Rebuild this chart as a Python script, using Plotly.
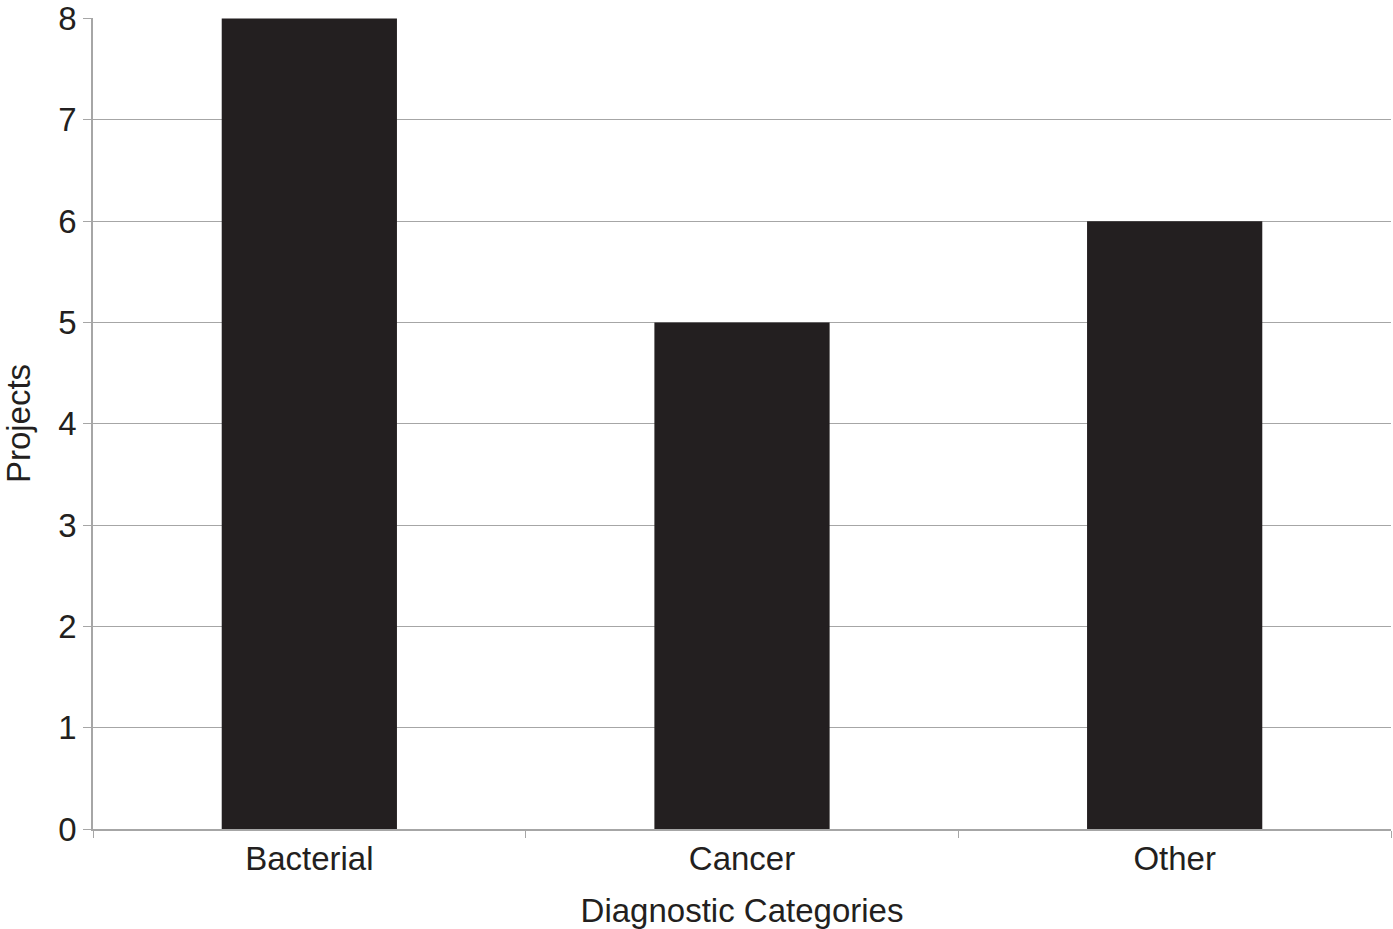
import plotly.graph_objects as go

categories = ["Bacterial", "Cancer", "Other"]
projects = [8, 5, 6]
y_ticks = [0, 1, 2, 3, 4, 5, 6, 7, 8]

fig = go.Figure()
fig.add_trace(go.Bar(
    x=categories, y=projects,
    marker=dict(color="#231f20", line=dict(width=0)),
    width=0.405,
))

font = dict(family="Liberation Sans, Arial, sans-serif", size=33, color="#231f20")
fig.update_layout(
    width=1393, height=929,
    margin=dict(l=93, r=2, t=18, b=100),
    paper_bgcolor="white", plot_bgcolor="white",
    font=font,
    showlegend=False,
    xaxis=dict(
        title=dict(text="Diagnostic Categories", font=font, standoff=23),
        tickson="boundaries", ticks="outside", ticklen=7, tickcolor="#a6a6a6",
        showline=True, linecolor="#a6a6a6", linewidth=1.5,
        showgrid=False, tickfont=font, automargin="bottom",
    ),
    yaxis=dict(
        title=dict(text="Projects", font=font, standoff=19),
        range=[0, 8.006], tickvals=y_ticks, ticks="outside", ticklen=8,
        tickcolor="#a6a6a6", showline=True, linecolor="#a6a6a6", linewidth=1.5,
        showgrid=True, gridcolor="#a6a6a6", gridwidth=1.2,
        zeroline=False, tickfont=font, ticklabeloverflow="allow",
        automargin="left",
    ),
)

fig.write_html(
    "out.html",
    config={"displayModeBar": False},
    post_script="document.body.style.margin='0';document.body.style.overflow='hidden';",
)
